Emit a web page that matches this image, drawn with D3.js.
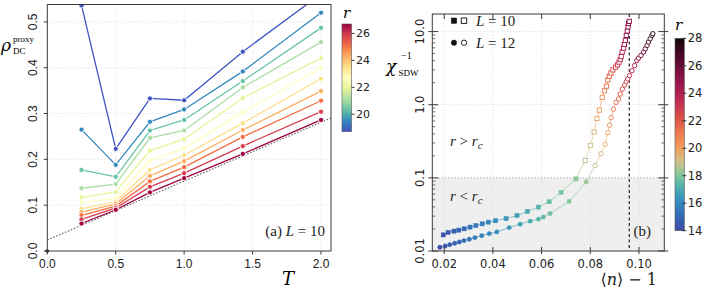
<!DOCTYPE html>
<html><head><meta charset="utf-8">
<script src="https://cdn.jsdelivr.net/npm/d3@7/dist/d3.min.js"></script>
<style>body{margin:0;background:#fff}svg{display:block}</style>
</head><body>
<svg id="c" width="706" height="290"></svg>
<script>
// ---------- Panel (a) data ----------
const temps = [0.25, 0.5, 0.75, 1.0, 1.4286, 2.0];
const rA = [18.7, 19.5, 20.3, 21.1, 21.9, 22.7, 23.5, 24.3, 25.1, 25.9, 26.7];
const rhoA = [
  [0.536, 0.223, 0.333, 0.329, 0.435, 0.561],
  [0.265, 0.188, 0.282, 0.309, 0.392, 0.520],
  [0.177, 0.162, 0.263, 0.286, 0.371, 0.487],
  [0.137, 0.146, 0.247, 0.263, 0.357, 0.456],
  [0.117, 0.129, 0.219, 0.244, 0.334, 0.421],
  [0.106, 0.115, 0.197, 0.224, 0.303, 0.399],
  [0.092, 0.108, 0.177, 0.209, 0.279, 0.376],
  [0.085, 0.103, 0.164, 0.196, 0.264, 0.349],
  [0.078, 0.098, 0.152, 0.183, 0.249, 0.328],
  [0.069, 0.094, 0.140, 0.170, 0.229, 0.304],
  [0.060, 0.090, 0.128, 0.159, 0.212, 0.286]
];
const fitIntercept = 0.024, fitSlope = 0.1285;
const xTicksA = [0.0, 0.5, 1.0, 1.5, 2.0];
const yTicksA = [0.0, 0.1, 0.2, 0.3, 0.4, 0.5];
const cbTicksA = [20, 22, 24, 26];

// ---------- Panel (b) data ----------
const nL10 = [0.0196,0.0216,0.0240,0.0260,0.0282,0.0306,0.0330,0.0356,0.0381,0.0411,0.0454,0.0499,0.0542,0.0587,0.0631,0.0680,0.0741,0.0779,0.0800,0.0816,0.0827,0.0837,0.0849,0.0858,0.0866,0.0872,0.0878,0.0885,0.0893,0.0904,0.0912,0.0918,0.0923,0.0927,0.0931,0.0937,0.0940,0.0944,0.0948,0.0952,0.0955,0.0957,0.0960];
const chiL10 = [0.0166,0.0179,0.0187,0.0193,0.0201,0.0212,0.0223,0.0235,0.0248,0.0259,0.0278,0.0305,0.0347,0.0399,0.0472,0.0634,0.0968,0.173,0.278,0.424,0.649,0.843,1.26,1.55,1.79,2.18,2.45,2.72,2.99,3.26,3.51,3.82,4.15,4.56,5.24,5.94,6.67,7.57,8.87,10.2,11.6,12.9,13.8];
const rL10 = [14.3,14.5,14.7,14.9,15.1,15.3,15.5,15.7,15.9,16.1,16.4,16.7,17.0,17.3,17.6,17.9,18.2,18.6,19.0,19.4,19.8,20.1,20.4,20.8,21.1,21.4,21.7,22.0,22.3,22.6,22.9,23.2,23.4,23.6,23.8,24.0,24.2,24.4,24.6,24.8,25.0,25.2,25.4];
const nL12 = [0.0182,0.0204,0.0223,0.0243,0.0262,0.0281,0.0303,0.0326,0.0354,0.0385,0.0416,0.0467,0.0512,0.0553,0.0587,0.0607,0.0635,0.0713,0.0783,0.0820,0.0844,0.0861,0.0872,0.0879,0.0886,0.0895,0.0906,0.0916,0.0923,0.0932,0.0941,0.0948,0.0954,0.0961,0.0971,0.0982,0.0991,0.0998,0.1008,0.1019,0.1026,0.1033,0.1039,0.1046,0.1053,0.1057];
const chiL12 = [0.01125,0.01172,0.01222,0.01276,0.0133,0.01387,0.01449,0.01524,0.01622,0.0173,0.01824,0.0209,0.0233,0.0256,0.0273,0.0291,0.0326,0.0476,0.0881,0.1476,0.2138,0.287,0.416,0.524,0.668,0.871,1.076,1.194,1.40,1.64,1.86,2.07,2.25,2.50,2.92,3.43,4.02,4.34,4.71,5.24,5.82,6.46,7.19,7.98,8.87,9.35];
const rL12 = [14.2,14.4,14.6,14.8,15.0,15.2,15.4,15.6,15.8,16.0,16.2,16.5,16.8,17.1,17.3,17.5,17.7,18.0,18.4,18.8,19.2,19.6,20.0,20.3,20.6,21.0,21.3,21.6,21.9,22.2,22.5,22.8,23.1,23.4,23.8,24.2,24.6,25.0,25.4,25.8,26.2,26.5,26.8,27.1,27.4,27.6];
const nCritical = 0.0960;
const chiThreshold = 0.1;
const xTicksB = [0.02, 0.04, 0.06, 0.08, 0.10];
const yTicksB = [0.01, 0.1, 1, 10];
const yTickLabelsB = ["0.01", "0.1", "1.0", "10.0"];
const cbTicksB = [14, 16, 18, 20, 22, 24, 26, 28];

// ---------- drawing ----------
const svg = d3.select("#c");
const sans = "'Liberation Sans', Arial, sans-serif";
const dejavu = "'DejaVu Sans', sans-serif";
const serif = "'DejaVu Serif', 'Liberation Serif', serif";
const frameCol = "#3a3a3a";

// ===== Panel (a) =====
const A = {l: 47.3, r: 331, t: 4.5, b: 251};
const xA = d3.scaleLinear().domain([0, 2.073]).range([A.l, A.r]);
const yA = d3.scaleLinear().domain([0, 0.538]).range([A.b, A.t]);
const rDomA = d3.extent(rA);
const specStops = ["#9e0142","#d53e4f","#f46d43","#fdae61","#fee08b","#ffffbf","#e6f598","#abdda4","#66c2a5","#3288bd","#3f54c2"];
const specScale = d3.scaleLinear().domain(d3.range(11).map(i => i / 10)).range(specStops).interpolate(d3.interpolateRgb);
const colA = r => specScale(1 - (r - rDomA[0]) / (rDomA[1] - rDomA[0]));

svg.append("defs").append("clipPath").attr("id", "clipA")
  .append("rect").attr("x", A.l).attr("y", A.t).attr("width", A.r - A.l).attr("height", A.b - A.t);

const gA = svg.append("g");
// grid
gA.selectAll(".gx").data(xTicksA.filter(d => d > 0)).join("line")
  .attr("x1", d => xA(d)).attr("x2", d => xA(d)).attr("y1", A.t).attr("y2", A.b)
  .attr("stroke", "#d8d8d8").attr("stroke-dasharray", "1,2").attr("stroke-width", 0.8);
gA.selectAll(".gy").data(yTicksA.filter(d => d > 0)).join("line")
  .attr("y1", d => yA(d)).attr("y2", d => yA(d)).attr("x1", A.l).attr("x2", A.r)
  .attr("stroke", "#d8d8d8").attr("stroke-dasharray", "1,2").attr("stroke-width", 0.8);

const plotA = gA.append("g").attr("clip-path", "url(#clipA)");
// fit line
plotA.append("line")
  .attr("x1", xA(0)).attr("y1", yA(fitIntercept))
  .attr("x2", xA(2.073)).attr("y2", yA(fitIntercept + fitSlope * 2.073))
  .attr("stroke", "#666").attr("stroke-width", 1.1).attr("stroke-dasharray", "1.6,1.6");

const lineA = d3.line().x((d, i) => xA(temps[i])).y(d => yA(d));
rhoA.forEach((row, k) => {
  plotA.append("path").attr("d", lineA(row)).attr("fill", "none")
    .attr("stroke", colA(rA[k])).attr("stroke-width", 1.3);
});
rhoA.forEach((row, k) => {
  plotA.selectAll(null).data(row).join("circle")
    .attr("cx", (d, i) => xA(temps[i])).attr("cy", d => yA(d)).attr("r", 2.6)
    .attr("fill", colA(rA[k])).attr("stroke", "#fff").attr("stroke-width", 0.9);
});
// origin dot
gA.append("circle").attr("cx", xA(0)).attr("cy", yA(0)).attr("r", 1.8).attr("fill", "#111");

// frame
gA.append("rect").attr("x", A.l).attr("y", A.t).attr("width", A.r - A.l).attr("height", A.b - A.t)
  .attr("fill", "none").attr("stroke", frameCol).attr("stroke-width", 1);
// ticks
gA.selectAll(".tx").data(xTicksA).join("line")
  .attr("x1", d => xA(d)).attr("x2", d => xA(d)).attr("y1", A.b).attr("y2", A.b + 3.5)
  .attr("stroke", frameCol);
gA.selectAll(".ty").data(yTicksA).join("line")
  .attr("y1", d => yA(d)).attr("y2", d => yA(d)).attr("x1", A.l - 3.5).attr("x2", A.l)
  .attr("stroke", frameCol);
gA.selectAll(".lx").data(xTicksA).join("text")
  .attr("x", d => xA(d)).attr("y", 267.5).attr("text-anchor", "middle")
  .attr("font-family", sans).attr("font-size", 12).attr("fill", "#222")
  .text(d => d.toFixed(1));
gA.selectAll(".ly").data(yTicksA).join("text")
  .attr("transform", d => `translate(36.5,${yA(d)}) rotate(-90)`).attr("text-anchor", "middle")
  .attr("font-family", sans).attr("font-size", 12).attr("fill", "#222")
  .text(d => d.toFixed(1));
// axis labels
gA.append("text").attr("x", 288).attr("y", 284.5).attr("text-anchor", "middle")
  .attr("font-family", serif).attr("font-style", "italic").attr("font-size", 18).text("T");
const yl = gA.append("g");
yl.append("text").attr("x", 1).attr("y", 51).attr("font-family", serif).attr("font-style", "italic")
  .attr("font-size", 17).text("ρ");
yl.append("text").attr("x", 13).attr("y", 41.5).attr("font-family", "'Liberation Serif', serif")
  .attr("font-size", 9).text("proxy");
yl.append("text").attr("x", 13).attr("y", 53.5).attr("font-family", "'Liberation Serif', serif")
  .attr("font-size", 9).text("DC");
// annotation
const annA = gA.append("text").attr("x", 325).attr("y", 235.5).attr("text-anchor", "end")
  .attr("font-family", "'Liberation Serif', serif").attr("font-size", 15).attr("fill", "#222");
annA.append("tspan").text("(a) ");
annA.append("tspan").attr("font-style", "italic").text("L");
annA.append("tspan").text(" = 10");

// colorbar (a)
const CA = {x: 342, w: 9.5, t: 24, b: 131.7};
const cbA = d3.scaleLinear().domain(rDomA).range([CA.b, CA.t]);
const gradA = svg.select("defs").append("linearGradient").attr("id", "gradA")
  .attr("x1", 0).attr("y1", 1).attr("x2", 0).attr("y2", 0);
d3.range(0, 1.0001, 0.05).forEach(t => gradA.append("stop").attr("offset", t)
  .attr("stop-color", colA(rDomA[0] + t * (rDomA[1] - rDomA[0]))));
svg.append("rect").attr("x", CA.x).attr("y", CA.t).attr("width", CA.w).attr("height", CA.b - CA.t)
  .attr("fill", "url(#gradA)").attr("stroke", "#555").attr("stroke-width", 0.6);
svg.selectAll(".cbta").data(cbTicksA).join("line")
  .attr("x1", CA.x + CA.w).attr("x2", CA.x + CA.w + 3).attr("y1", d => cbA(d)).attr("y2", d => cbA(d))
  .attr("stroke", "#333");
svg.selectAll(".cbla").data(cbTicksA).join("text")
  .attr("x", CA.x + CA.w + 4.5).attr("y", d => cbA(d) + 4).attr("font-family", dejavu).attr("font-size", 11)
  .attr("fill", "#222").text(d => d);
svg.append("text").attr("x", 343).attr("y", 18).attr("font-family", serif).attr("font-style", "italic")
  .attr("font-size", 15).text("r");

// ===== Panel (b) =====
const B = {l: 432.3, r: 664.3, t: 14, b: 251};
const xB = d3.scaleLinear().domain([0.0151, 0.1104]).range([B.l, B.r]);
const yB = d3.scaleLog().domain([0.01, 17.4]).range([B.b, B.t]);
const rStops = [14,15,16,17,18,19,20,21,22,23,24,25,26,27,28];
const rCols = ["#3b4ba6","#3468b4","#3388bf","#45a8b0","#80c99a","#cfc28a","#f2a05e","#ee7c50","#df5748","#c93a4e","#b21f55","#901549","#690c35","#3e0720","#14040a"];
const colB = d3.scaleLinear().domain(rStops).range(rCols).interpolate(d3.interpolateRgb).clamp(true);

svg.select("defs").append("clipPath").attr("id", "clipB")
  .append("rect").attr("x", B.l).attr("y", B.t).attr("width", B.r - B.l).attr("height", B.b - B.t);
const gB = svg.append("g");
gB.append("rect").attr("x", B.l).attr("y", yB(chiThreshold)).attr("width", B.r - B.l)
  .attr("height", B.b - yB(chiThreshold)).attr("fill", "#efefef");
// grid
gB.selectAll(".gbx").data(xTicksB).join("line")
  .attr("x1", d => xB(d)).attr("x2", d => xB(d)).attr("y1", B.t).attr("y2", B.b)
  .attr("stroke", "#d4d4d4").attr("stroke-dasharray", "1,2").attr("stroke-width", 0.8);
gB.selectAll(".gby").data([1, 10]).join("line")
  .attr("y1", d => yB(d)).attr("y2", d => yB(d)).attr("x1", B.l).attr("x2", B.r)
  .attr("stroke", "#d4d4d4").attr("stroke-dasharray", "1,2").attr("stroke-width", 0.8);
gB.append("line").attr("x1", B.l).attr("x2", B.r).attr("y1", yB(chiThreshold)).attr("y2", yB(chiThreshold))
  .attr("stroke", "#aaa").attr("stroke-dasharray", "1.2,2").attr("stroke-width", 1);
gB.append("line").attr("x1", xB(nCritical)).attr("x2", xB(nCritical)).attr("y1", B.t).attr("y2", B.b)
  .attr("stroke", "#111").attr("stroke-dasharray", "3,2.5").attr("stroke-width", 1.1);

const plotB = gB.append("g").attr("clip-path", "url(#clipB)");
function drawChain(xs, ys, rs, shape) {
  for (let i = 0; i < xs.length - 1; i++) {
    plotB.append("line").attr("x1", xB(xs[i])).attr("y1", yB(ys[i]))
      .attr("x2", xB(xs[i + 1])).attr("y2", yB(ys[i + 1]))
      .attr("stroke", colB((rs[i] + rs[i + 1]) / 2)).attr("stroke-width", 1).attr("opacity", 0.6);
  }
  xs.forEach((x, i) => {
    const filled = ys[i] < chiThreshold;
    const c = colB(rs[i]);
    const cx = xB(x), cy = yB(ys[i]);
    let m;
    if (shape === "square") {
      m = plotB.append("rect").attr("x", cx - 2.1).attr("y", cy - 2.1).attr("width", 4.2).attr("height", 4.2);
    } else {
      m = plotB.append("circle").attr("cx", cx).attr("cy", cy).attr("r", 2.2);
    }
    m.attr("fill", filled ? c : "#fff").attr("stroke", c).attr("stroke-width", filled ? 0.4 : 0.95);
  });
}
drawChain(nL10, chiL10, rL10, "square");
drawChain(nL12, chiL12, rL12, "circle");

// frame
gB.append("rect").attr("x", B.l).attr("y", B.t).attr("width", B.r - B.l).attr("height", B.b - B.t)
  .attr("fill", "none").attr("stroke", frameCol).attr("stroke-width", 1);
// log ticks
const minorB = [];
[0.01, 0.1, 1, 10].forEach(dec => { for (let k = 2; k <= 9; k++) { const v = dec * k; if (v < 17.4) minorB.push(v); } });
[B.l, B.r].forEach((xx, side) => {
  const dir = side === 0 ? 1 : -1;
  gB.selectAll(null).data(yTicksB).join("line")
    .attr("x1", xx - dir * 4).attr("x2", xx + dir * 6).attr("y1", d => yB(d)).attr("y2", d => yB(d))
    .attr("stroke", frameCol);
  gB.selectAll(null).data(minorB).join("line")
    .attr("x1", xx).attr("x2", xx + dir * 3).attr("y1", d => yB(d)).attr("y2", d => yB(d))
    .attr("stroke", frameCol).attr("stroke-width", 0.7);
});
gB.selectAll(".tbx").data(xTicksB).join("line")
  .attr("x1", d => xB(d)).attr("x2", d => xB(d)).attr("y1", B.t).attr("y2", B.t + 5).attr("stroke", frameCol);
gB.selectAll(".tbx2").data(xTicksB).join("line")
  .attr("x1", d => xB(d)).attr("x2", d => xB(d)).attr("y1", B.b - 4).attr("y2", B.b + 3).attr("stroke", frameCol);
gB.selectAll(".lbx").data(xTicksB).join("text")
  .attr("x", d => xB(d)).attr("y", 268).attr("text-anchor", "middle")
  .attr("font-family", dejavu).attr("font-size", 11.5).attr("fill", "#222").text(d => d.toFixed(2));
gB.selectAll(".lby").data(yTicksB).join("text")
  .attr("transform", d => `translate(423.5,${yB(d)}) rotate(-90)`).attr("text-anchor", "middle")
  .attr("font-family", dejavu).attr("font-size", 11.5).attr("fill", "#222")
  .text((d, i) => yTickLabelsB[i]);
// axis labels
const xlB = gB.append("text").attr("x", 657).attr("y", 285).attr("text-anchor", "end")
  .attr("font-family", serif).attr("font-size", 16).attr("fill", "#222");
xlB.append("tspan").text("⟨");
xlB.append("tspan").attr("font-style", "italic").text("n");
xlB.append("tspan").text("⟩ − 1");
gB.append("text").attr("x", 386).attr("y", 72).attr("font-family", serif).attr("font-style", "italic")
  .attr("font-size", 17).text("χ");
gB.append("text").attr("x", 401).attr("y", 59).attr("font-family", "'Liberation Serif', serif")
  .attr("font-size", 10).text("−1");
gB.append("text").attr("x", 398.5).attr("y", 76).attr("font-family", "'Liberation Serif', serif")
  .attr("font-size", 9).text("SDW");
// region labels
function rLabel(y, op) {
  const t = gB.append("text").attr("x", 450).attr("y", y).attr("font-family", "'Liberation Serif', serif")
    .attr("font-size", 15).attr("fill", "#222");
  t.append("tspan").attr("font-style", "italic").text("r");
  t.append("tspan").text(" " + op + " ");
  t.append("tspan").attr("font-style", "italic").text("r");
  t.append("tspan").attr("font-style", "italic").attr("font-size", 11).attr("dy", 3).text("c");
}
rLabel(146, ">");
rLabel(201, "<");
gB.append("text").attr("x", 651).attr("y", 235.5).attr("text-anchor", "end")
  .attr("font-family", "'Liberation Serif', serif").attr("font-size", 15).attr("fill", "#222").text("(b)");
// legend
const legRows = [{y: 20.7, shape: "square", L: "10"}, {y: 42.7, shape: "circle", L: "12"}];
legRows.forEach(row => {
  [454, 464].forEach((mx, j) => {
    let m;
    if (row.shape === "square") m = gB.append("rect").attr("x", mx - 2.7).attr("y", row.y - 2.7).attr("width", 5.4).attr("height", 5.4);
    else m = gB.append("circle").attr("cx", mx).attr("cy", row.y).attr("r", 2.7);
    m.attr("fill", j === 0 ? "#111" : "#fff").attr("stroke", "#111").attr("stroke-width", j === 0 ? 0.5 : 0.9);
  });
  const t = gB.append("text").attr("x", 476).attr("y", row.y + 5).attr("font-family", "'Liberation Serif', serif")
    .attr("font-size", 15).attr("fill", "#222");
  t.append("tspan").attr("font-style", "italic").text("L");
  t.append("tspan").text(" = " + row.L);
});

// colorbar (b)
const CB = {x: 675, w: 9.3, t: 38.3, b: 230.7};
const cbB = d3.scaleLinear().domain([14, 28]).range([CB.b, CB.t]);
const gradB = svg.select("defs").append("linearGradient").attr("id", "gradB")
  .attr("x1", 0).attr("y1", 1).attr("x2", 0).attr("y2", 0);
d3.range(0, 1.0001, 0.025).forEach(t => gradB.append("stop").attr("offset", t)
  .attr("stop-color", colB(14 + t * 14)));
svg.append("rect").attr("x", CB.x).attr("y", CB.t).attr("width", CB.w).attr("height", CB.b - CB.t)
  .attr("fill", "url(#gradB)").attr("stroke", "#555").attr("stroke-width", 0.6);
svg.selectAll(".cbtb").data(cbTicksB).join("line")
  .attr("x1", CB.x + CB.w - 2).attr("x2", CB.x + CB.w + 2).attr("y1", d => cbB(d)).attr("y2", d => cbB(d))
  .attr("stroke", "#333");
svg.selectAll(".cblb").data(cbTicksB).join("text")
  .attr("x", CB.x + CB.w + 3.5).attr("y", d => cbB(d) + 4).attr("font-family", dejavu).attr("font-size", 11.5)
  .attr("fill", "#222").text(d => d);
svg.append("text").attr("x", 675).attr("y", 30).attr("font-family", serif).attr("font-style", "italic")
  .attr("font-size", 15).text("r");
</script>
</body></html>
